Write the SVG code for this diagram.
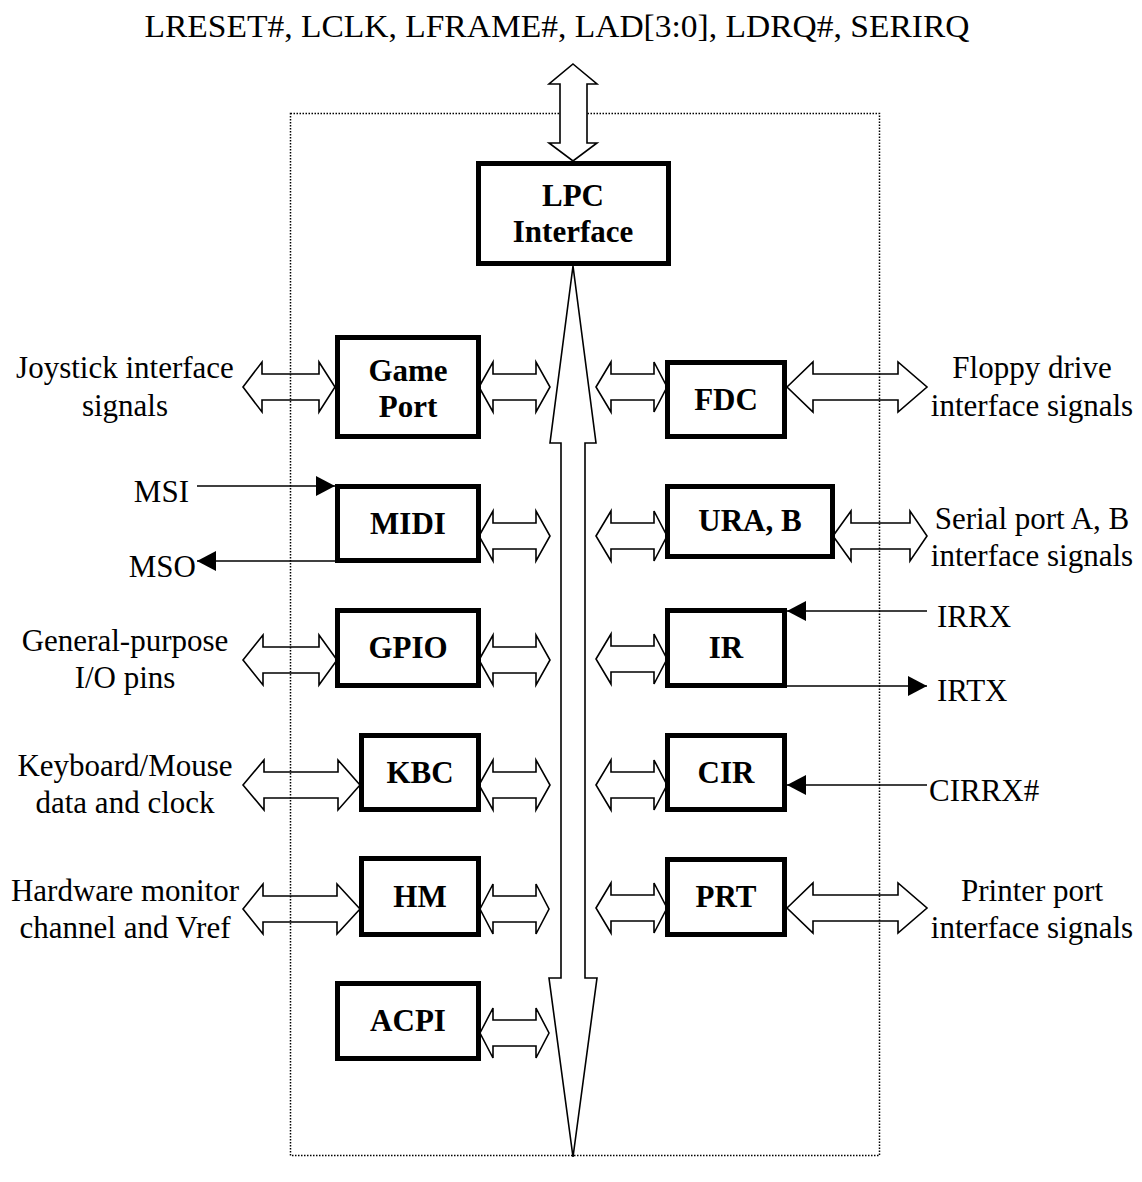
<svg xmlns="http://www.w3.org/2000/svg" width="1142" height="1182" viewBox="0 0 1142 1182">
<style>
.box{fill:#fff;stroke:#000;stroke-width:5}
.blk{fill:#fff;stroke:#000;stroke-width:1.6;stroke-linejoin:miter}
.sig{stroke:#000;stroke-width:1.6;fill:none}
.lbl{font-family:"Liberation Serif","Times New Roman",serif;font-size:31px;fill:#000}
.bl{font-family:"Liberation Serif","Times New Roman",serif;font-size:31px;font-weight:bold;fill:#000;text-anchor:middle}
.mid{text-anchor:middle}
.end{text-anchor:end}
</style>
<defs>
<marker id="ah" markerUnits="userSpaceOnUse" markerWidth="19" markerHeight="20" refX="19" refY="10" orient="auto">
<path d="M0,0 L19,10 L0,20 Z" fill="#000"/>
</marker>
</defs>
<rect width="1142" height="1182" fill="#fff"/>

<text class="lbl mid" x="557" y="37" font-size="35" textLength="825" lengthAdjust="spacingAndGlyphs">LRESET#, LCLK, LFRAME#, LAD[3:0], LDRQ#, SERIRQ</text>

<g id="connectors">
<path class="blk" d="M243,387 L262,362 L262,374 L319,374 L319,362 L335,387 L319,412 L319,400 L262,400 L262,412 Z"/>
<path class="blk" d="M479,387 L493,362 L493,374 L536,374 L536,362 L550,387 L536,412 L536,400 L493,400 L493,412 Z"/>
<path class="blk" d="M479,536 L493,511 L493,523 L536,523 L536,511 L550,536 L536,561 L536,549 L493,549 L493,561 Z"/>
<path class="blk" d="M243,660 L263,635 L263,647 L319,647 L319,635 L337,660 L319,685 L319,673 L263,673 L263,685 Z"/>
<path class="blk" d="M479,660 L493,635 L493,647 L536,647 L536,635 L550,660 L536,685 L536,673 L493,673 L493,685 Z"/>
<path class="blk" d="M243,785 L264,760 L264,772 L338,772 L338,760 L360,785 L338,810 L338,798 L264,798 L264,810 Z"/>
<path class="blk" d="M479,785 L493,760 L493,772 L536,772 L536,760 L550,785 L536,810 L536,798 L493,798 L493,810 Z"/>
<path class="blk" d="M243,909 L263,884 L263,896 L337,896 L337,884 L360,909 L337,934 L337,922 L263,922 L263,934 Z"/>
<path class="blk" d="M480,909 L493,884 L493,896 L536,896 L536,884 L549,909 L536,934 L536,922 L493,922 L493,934 Z"/>
<path class="blk" d="M480,1033 L493,1008 L493,1020 L536,1020 L536,1008 L549,1033 L536,1058 L536,1046 L493,1046 L493,1058 Z"/>
<path class="blk" d="M596,387 L611,362 L611,374 L654,374 L654,362 L667,387 L654,412 L654,400 L611,400 L611,412 Z"/>
<path class="blk" d="M596,536 L611,511 L611,523 L654,523 L654,511 L667,536 L654,561 L654,549 L611,549 L611,561 Z"/>
<path class="blk" d="M596,659 L611,634 L611,646 L654,646 L654,634 L667,659 L654,684 L654,672 L611,672 L611,684 Z"/>
<path class="blk" d="M596,785 L611,760 L611,772 L654,772 L654,760 L667,785 L654,810 L654,798 L611,798 L611,810 Z"/>
<path class="blk" d="M596,908 L611,883 L611,895 L654,895 L654,883 L667,908 L654,933 L654,921 L611,921 L611,933 Z"/>
<path class="blk" d="M787,387 L813,362 L813,374 L898,374 L898,362 L927,387 L898,412 L898,400 L813,400 L813,412 Z"/>
<path class="blk" d="M833,536 L851,511 L851,523 L910,523 L910,511 L927,536 L910,561 L910,549 L851,549 L851,561 Z"/>
<path class="blk" d="M787,908 L813,883 L813,895 L898,895 L898,883 L927,908 L898,933 L898,921 L813,921 L813,933 Z"/>
<line class="sig" x1="197" y1="486" x2="335" y2="486" marker-end="url(#ah)"/>
<line class="sig" x1="336" y1="561" x2="197" y2="561" marker-end="url(#ah)"/>
<line class="sig" x1="927" y1="611" x2="787" y2="611" marker-end="url(#ah)"/>
<line class="sig" x1="786" y1="686" x2="927" y2="686" marker-end="url(#ah)"/>
<line class="sig" x1="927" y1="785" x2="787" y2="785" marker-end="url(#ah)"/>
</g>

<rect x="290.5" y="113.5" width="589" height="1042" fill="none" stroke="#000" stroke-width="1.5" stroke-dasharray="1.5,1.5"/>

<g id="lpc-bus">
<path class="blk" d="M573,64 L597,84 L587,84 L587,143 L597,143 L573,161 L549,143 L560,143 L560,84 L549,84 Z" stroke-width="2"/>
<path class="blk" d="M573,266 L596,443 L585,443 L585,978 L597,978 L573,1157 L549,978 L561,978 L561,443 L550,443 Z"/>
</g>

<g id="lpc"><rect class="box" x="478.5" y="163.5" width="190" height="100"/><text class="bl" x="573" y="206">LPC</text><text class="bl" x="573" y="242">Interface</text></g>
<g id="gameport"><rect class="box" x="337.5" y="337.5" width="141" height="99"/><text class="bl" x="408" y="381">Game</text><text class="bl" x="408" y="417">Port</text></g>
<g id="midi"><rect class="box" x="337.5" y="486.5" width="141" height="74"/><text class="bl" x="408" y="534">MIDI</text></g>
<g id="gpio"><rect class="box" x="337.5" y="610.5" width="141" height="75"/><text class="bl" x="408" y="658">GPIO</text></g>
<g id="kbc"><rect class="box" x="361.5" y="735.5" width="117" height="74"/><text class="bl" x="420" y="783">KBC</text></g>
<g id="hm"><rect class="box" x="361.5" y="858.5" width="117" height="76"/><text class="bl" x="420" y="907">HM</text></g>
<g id="acpi"><rect class="box" x="337.5" y="983.5" width="141" height="75"/><text class="bl" x="408" y="1031">ACPI</text></g>
<g id="fdc"><rect class="box" x="667.5" y="362.5" width="117" height="74"/><text class="bl" x="726" y="410">FDC</text></g>
<g id="ura"><rect class="box" x="667.5" y="486.5" width="165" height="70"/><text class="bl" x="750" y="531">URA, B</text></g>
<g id="ir"><rect class="box" x="667.5" y="610.5" width="117" height="75"/><text class="bl" x="726" y="658">IR</text></g>
<g id="cir"><rect class="box" x="667.5" y="735.5" width="117" height="74"/><text class="bl" x="726" y="783">CIR</text></g>
<g id="prt"><rect class="box" x="667.5" y="859.5" width="117" height="75"/><text class="bl" x="726" y="907">PRT</text></g>

<g id="labels">
<text class="lbl mid" x="125" y="378">Joystick interface</text>
<text class="lbl mid" x="125" y="416">signals</text>
<text class="lbl end" x="189" y="502">MSI</text>
<text class="lbl end" x="196" y="577">MSO</text>
<text class="lbl mid" x="125" y="651">General-purpose</text>
<text class="lbl mid" x="125" y="688">I/O pins</text>
<text class="lbl mid" x="125" y="776">Keyboard/Mouse</text>
<text class="lbl mid" x="125" y="813">data and clock</text>
<text class="lbl mid" x="125" y="901">Hardware monitor</text>
<text class="lbl mid" x="125" y="938">channel and Vref</text>
<text class="lbl mid" x="1032" y="378">Floppy drive</text>
<text class="lbl mid" x="1032" y="416">interface signals</text>
<text class="lbl mid" x="1032" y="529">Serial port A, B</text>
<text class="lbl mid" x="1032" y="566">interface signals</text>
<text class="lbl" x="937" y="627">IRRX</text>
<text class="lbl" x="937" y="701">IRTX</text>
<text class="lbl" x="929" y="801">CIRRX#</text>
<text class="lbl mid" x="1032" y="901">Printer port</text>
<text class="lbl mid" x="1032" y="938">interface signals</text>
</g>
</svg>
